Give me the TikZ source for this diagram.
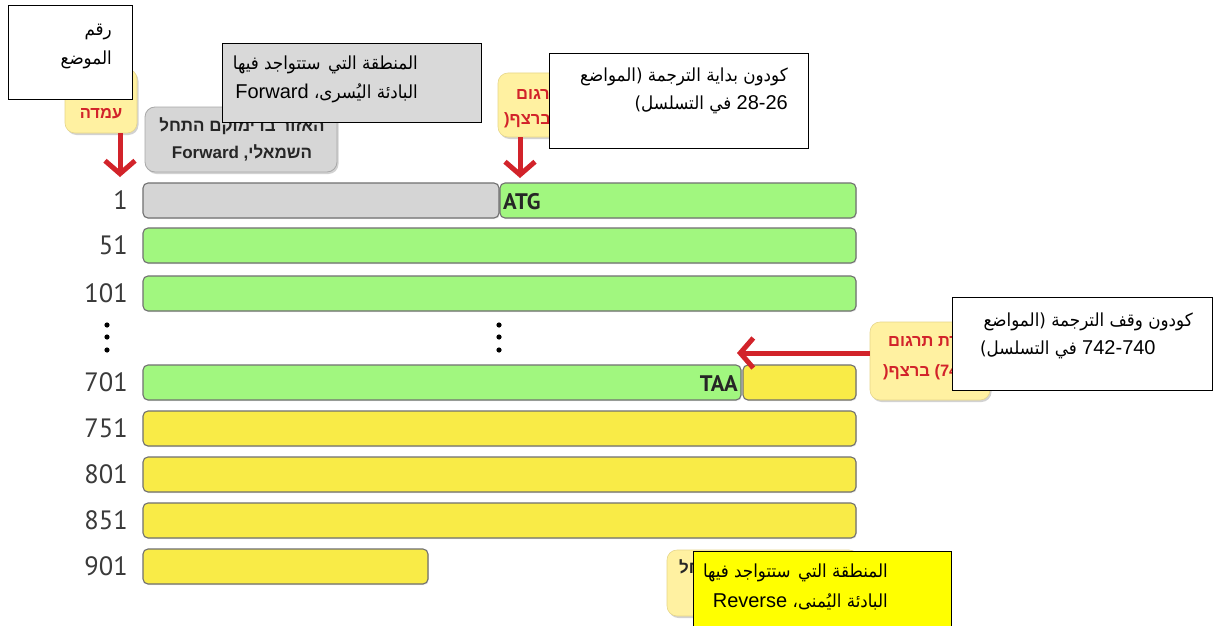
\documentclass[tikz,border=0pt]{standalone}
\usepackage{fontspec}
\setmainfont{PT Sans}
\newfontfamily\arabicfont[Script=Arabic,FakeStretch=0.93]{DejaVu Sans}
\newfontfamily\hebfont[Script=Hebrew]{Liberation Sans}
\newfontfamily\latinfont{Liberation Sans}
\TeXXeTstate=1
\newcommand\Lr[1]{\beginL{#1}\endL}
\newcommand\Lat[1]{{\latinfont\fontsize{20}{20}\selectfont #1}}
\usetikzlibrary{arrows.meta,shadows}
\definecolor{bargray}{HTML}{D5D5D5}
\definecolor{barline}{HTML}{707070}
\definecolor{bargreen}{HTML}{A1F77F}
\definecolor{baryellow}{HTML}{F9EB47}
\definecolor{calloutyellow}{HTML}{FFF1A1}
\definecolor{calloutedge}{HTML}{E6D68A}
\definecolor{callgray}{HTML}{D6D6D6}
\definecolor{callgrayedge}{HTML}{A8A8A8}
\definecolor{arrowred}{HTML}{D2232A}
\definecolor{boxgray}{HTML}{D9D9D9}
\definecolor{boxyellow}{HTML}{FFFF00}
\definecolor{numgray}{HTML}{3A3A3A}
\begin{document}
\begin{tikzpicture}[x=1pt,y=-1pt,
  bar/.style={draw=barline,line width=1.1pt,rounded corners=5pt,inner sep=0pt,minimum height=35pt,
    drop shadow={opacity=0.15,shadow xshift=0.8pt,shadow yshift=-1.2pt}},
  numlabel/.style={font=\fontsize{26.5}{26.5}\selectfont,text=numgray,anchor=east,inner sep=0pt},
  codon/.style={font=\bfseries\fontsize{22.5}{22.5}\selectfont,text=black!85,inner sep=0pt},
  ycallout/.style={fill=calloutyellow,draw=calloutedge,line width=0.6pt,rounded corners=10pt,inner sep=0pt,
    drop shadow={opacity=0.35,shadow xshift=1.5pt,shadow yshift=-2pt}},
  gcallout/.style={fill=callgray,draw=callgrayedge,line width=0.8pt,rounded corners=10pt,inner sep=0pt,
    drop shadow={opacity=0.35,shadow xshift=1.5pt,shadow yshift=-2pt}},
  redheb/.style={font=\hebfont\bfseries\fontsize{16.5}{16.5}\selectfont,text=arrowred,inner sep=0pt},
  blackheb/.style={font=\hebfont\bfseries\fontsize{17}{17}\selectfont,text=black!85,inner sep=0pt},
  notebox/.style={draw=black,line width=0.9pt,inner sep=0pt},
  artext/.style={font=\arabicfont\fontsize{18}{18}\selectfont,inner sep=0pt,anchor=east},
  redarrow/.style={draw=arrowred,line width=5pt,-{Straight Barb[length=13pt,width=30pt]}},
]
\useasboundingbox (0,0) rectangle (1215,626);
\fill[white] (0,0) rectangle (1215,626);

% sequence bars
\node[bar,fill=bargray,minimum width=356pt] (r1a) at (321,200.5) {};
\node[bar,fill=bargreen,minimum width=356pt] (r1b) at (678,200.5) {};
\node[bar,fill=bargreen,minimum width=713pt] (r51) at (499.5,245.5) {};
\node[bar,fill=bargreen,minimum width=713pt] (r101) at (499.5,293.5) {};
\node[bar,fill=bargreen,minimum width=598pt] (r701a) at (442,382.5) {};
\node[bar,fill=baryellow,minimum width=113pt] (r701b) at (799.5,382.5) {};
\node[bar,fill=baryellow,minimum width=713pt] (r751) at (499.5,428.5) {};
\node[bar,fill=baryellow,minimum width=713pt] (r801) at (499.5,474.5) {};
\node[bar,fill=baryellow,minimum width=713pt] (r851) at (499.5,520.5) {};
\node[bar,fill=baryellow,minimum width=285pt] (r901) at (285.5,566.5) {};

% position numbers
\node[numlabel] (n1) at (128,200.5) {1};
\node[numlabel] (n51) at (128,245.5) {51};
\node[numlabel] (n101) at (128,293.5) {101};
\node[numlabel] (n701) at (128,382.5) {701};
\node[numlabel] (n751) at (128,428.5) {751};
\node[numlabel] (n801) at (128,474.5) {801};
\node[numlabel] (n851) at (128,520.5) {851};
\node[numlabel] (n901) at (128,566.5) {901};

\node[codon,anchor=west] (atg) at (503,202) {ATG};
\node[codon,anchor=east] (taa) at (738,384) {TAA};

\foreach \yy in {325,337,350} {
  \fill (107,\yy) circle (2.6pt);
  \fill (499,\yy) circle (2.6pt);
}

% Hebrew callouts (behind)
\node[ycallout,minimum width=72pt,minimum height=64pt] (posc) at (101,101) {};
\node[redheb] (posct) at (101,114) {\beginR עמדה\endR};
\coordinate (a1) at (120,177);
\draw[redarrow] (posc.south -| a1) -- (a1);

\node[gcallout,minimum width=192pt,minimum height=65pt] (fwdc) at (241,139.5) {};
\node[blackheb] (fwdc1) at (242,126) {\beginR האזור בו ימוקם התחל\endR};
\node[blackheb] (fwdc2) at (242,153) {\beginR השמאלי\Lr{,} \Lr{Forward}\endR};

\node[ycallout,minimum width=110pt,minimum height=64pt] (startc) at (553,105) {};
\begin{scope}
\clip (490,60) rectangle (549,140);
\node[redheb,anchor=west] (startc1) at (516,93) {\beginR התחלת תרגום\endR};
\node[redheb,anchor=west] (startc2) at (504,120) {\beginR\Lr{28-26)} ברצף\Lr{(}\endR};
\end{scope}
\coordinate (a2) at (520,178);
\draw[redarrow] (startc.south -| a2) -- (a2);

\node[ycallout,minimum width=120pt,minimum height=78pt] (stopc) at (930,361) {};
\begin{scope}
\clip (860,310) rectangle (952,410);
\node[redheb,anchor=west] (stopc1) at (888,342) {\beginR עצירת תרגום\endR};
\node[redheb,anchor=west] (stopc2) at (883,372) {\beginR\Lr{742-740)} ברצף\Lr{(}\endR};
\end{scope}
\coordinate (a3) at (737,353);
\draw[redarrow] (stopc.west |- a3) -- (a3);

\node[ycallout,minimum width=192pt,minimum height=66pt] (revc) at (763,583) {};
\begin{scope}
\clip (660,540) rectangle (693,626);
\node[blackheb,anchor=west] (revc1) at (679,567) {\beginR חל\endR};
\end{scope}

% Arabic notes (front)
\node[notebox,fill=white,minimum width=124pt,minimum height=94pt] (posn) at (70.5,52.5) {};
\node[artext] (posn1) at (112,32) {\beginR رقم\endR};
\node[artext] (posn2) at (112,60) {\beginR الموضع\endR};

\node[notebox,fill=boxgray,minimum width=259pt,minimum height=79pt] (fwdn) at (351.5,82.5) {};
\node[artext] (fwdn1) at (418,65) {\beginR المنطقة التي \hspace{2pt}ستتواجد فيها\endR};
\node[artext] (fwdn2) at (418,93) {\beginR البادئة اليُسرى\Lr{،} \Lr{\Lat{Forward}}\endR};

\node[notebox,fill=white,minimum width=259pt,minimum height=95pt] (startn) at (678.5,100.5) {};
\node[artext] (startn1) at (788,77) {\beginR كودون بداية الترجمة \Lr{(}المواضع\endR};
\node[artext] (startn2) at (788,105) {\beginR\Lr{\Lat{28-26}} في التسلسل\Lr{)}\endR};

\node[notebox,fill=white,minimum width=260pt,minimum height=93pt] (stopn) at (1082,343.5) {};
\node[artext] (stopn1) at (1193,322) {\beginR كودون وقف الترجمة \Lr{(}المواضع\endR};
\node[artext,anchor=west] (stopn2) at (980,350) {\beginR\Lr{\Lat{742-740}} في التسلسل\Lr{)}\endR};

\node[notebox,fill=boxyellow,minimum width=258pt,minimum height=77pt] (revn) at (822,589.5) {};
\node[artext] (revn1) at (888,573) {\beginR المنطقة التي \hspace{2pt}ستتواجد فيها\endR};
\node[artext] (revn2) at (888,602) {\beginR البادئة اليُمنى\Lr{،} \Lr{\Lat{Reverse}}\endR};
\end{tikzpicture}
\end{document}
